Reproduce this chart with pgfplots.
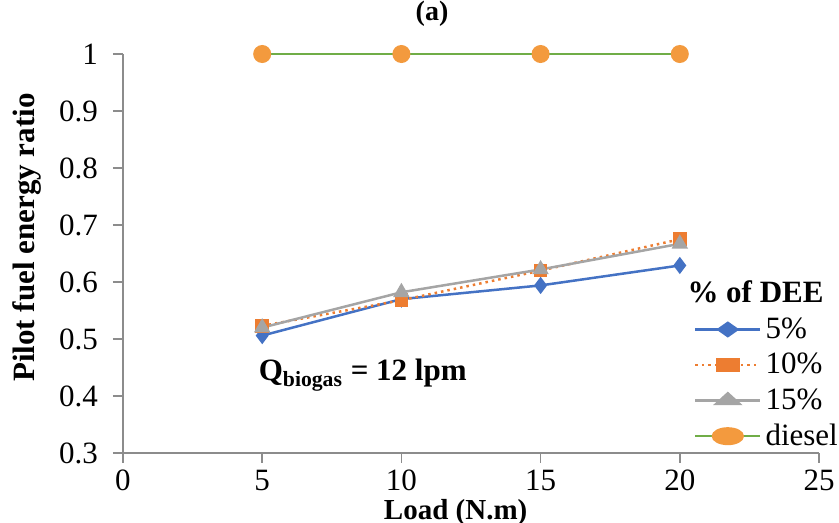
\documentclass[border=0pt]{standalone}
\usepackage{pgfplots}
\pgfplotsset{compat=1.18}
\usepackage{fontspec}
\setmainfont{Liberation Serif}

\definecolor{cBlue}{HTML}{4472C4}
\definecolor{cOrange}{HTML}{ED7D31}
\definecolor{cGray}{HTML}{A5A5A5}
\definecolor{cGreen}{HTML}{70AD47}
\definecolor{cDot}{HTML}{F39A3E}
\definecolor{axgray}{HTML}{8C8C8C}

\begin{document}
\begin{tikzpicture}
\begin{axis}[
    width=348pt, height=199.5pt,
    scale only axis,
    axis lines*=left,
    axis line style={axgray, line width=1pt},
    xmin=0, xmax=25, ymin=0.3, ymax=1,
    xtick={0,5,...,25},
    ytick={0.3,0.4,...,1.0},
    yticklabel style={/pgf/number format/fixed, /pgf/number format/precision=1, xshift=-4pt},
    xticklabel style={yshift=0pt},
    tick align=outside,
    major tick length=5pt,
    tick style={axgray, line width=0.8pt},
    ticklabel style={font=\fontsize{15.5}{17}\selectfont},
    /pgf/number format/assume math mode=true,
    xlabel={\textbf{Load (N.m)}},
    ylabel={\textbf{Pilot fuel energy ratio}},
    xlabel style={font=\fontsize{14.5}{16}\selectfont,
        at={(axis description cs:0.478,-0.148)}, anchor=center},
    ylabel style={font=\fontsize{15.5}{17}\selectfont,
        at={(axis description cs:-0.138,0.54)}, anchor=center},
    clip=false,
    legend cell align=left,
    legend style={
        at={(axis description cs:0.82,0.442)}, anchor=north west,
        draw=none, fill=none,
        font=\fontsize{15.5}{17}\selectfont,
        row sep=1.9pt,
        inner sep=0pt,
        /tikz/every odd column/.append style={column sep=0pt},
    },
    legend image post style={xscale=1.9},
]

\addlegendimage{empty legend}
\addlegendentry{\hspace{-39pt}\textbf{\% of DEE}}

% 5 % DEE
\addplot[cBlue, line width=1.25pt, mark=diamond*, mark size=3.3pt,
    mark options={fill=cBlue, draw=cBlue}] coordinates {
    (5,0.506) (10,0.570) (15,0.594) (20,0.629)
};
\addlegendentry{5\%}

% 10 % DEE
\addplot[cOrange, line width=1.25pt, dotted, mark=square*, mark size=2.8pt,
    mark options={solid, fill=cOrange, draw=cOrange}] coordinates {
    (5,0.523) (10,0.568) (15,0.620) (20,0.675)
};
\addlegendentry{10\%}

% 15 % DEE
\addplot[cGray, line width=1.25pt, mark=triangle*, mark size=3.5pt,
    mark options={fill=cGray, draw=cGray}] coordinates {
    (5,0.520) (10,0.582) (15,0.622) (20,0.667)
};
\addlegendentry{15\%}

% diesel
\addplot[cGreen, line width=1pt, mark=*, mark size=4pt,
    mark options={fill=cDot, draw=cDot}] coordinates {
    (5,1) (10,1) (15,1) (20,1)
};
\addlegendentry{diesel}

\node[anchor=west, font=\fontsize{15.5}{17}\selectfont\bfseries]
    at (axis description cs:0.185,0.195) {Q\textsubscript{biogas} = 12 lpm};
\node[font=\fontsize{14}{16}\selectfont\bfseries]
    at (axis description cs:0.444,1.10) {(a)};

\end{axis}
\pgfresetboundingbox
\path[use as bounding box] (current axis.south west) ++(-61.5pt,-35pt) rectangle ++(419.5pt,261.5pt);
\end{tikzpicture}
\end{document}
